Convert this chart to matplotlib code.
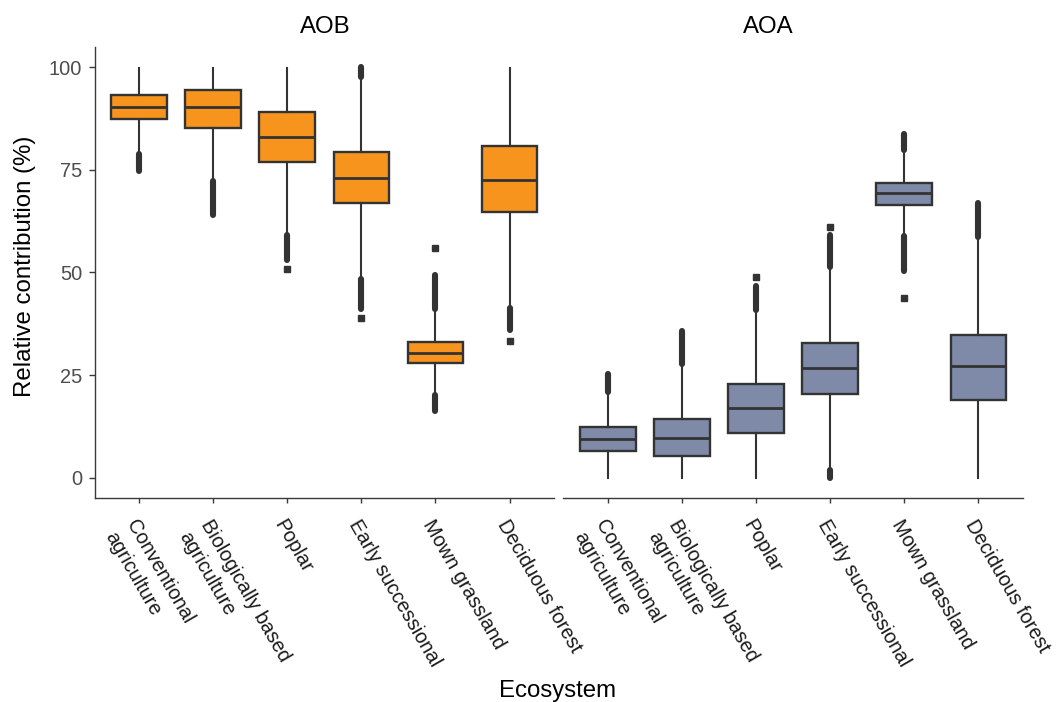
import matplotlib

matplotlib.use("Agg")
import matplotlib.pyplot as plt

plt.rcParams["font.family"] = ["Liberation Sans", "DejaVu Sans"]

# ecosystem categories (x axis of both facets)
ecosystems = [
    "Conventional\nagriculture",
    "Biologically based\nagriculture",
    "Poplar",
    "Early successional",
    "Mown grassland",
    "Deciduous forest",
]
panels = ["AOB", "AOA"]

# box statistics, relative contribution (%)
aob_q1 = [87.3, 85.3, 76.8, 66.8, 27.9, 64.7]
aob_med = [90.3, 90.2, 83.0, 73.1, 30.5, 72.5]
aob_q3 = [93.2, 94.4, 89.0, 79.3, 33.2, 80.8]
aob_lo = [79.4, 72.7, 59.7, 49.1, 20.6, 41.7]
aob_hi = [99.8, 99.8, 99.8, 97.0, 40.5, 99.8]
# dense runs of outliers (from, to) and isolated outliers
aob_runs = [
    [(74.6, 78.9)],
    [(63.9, 72.2)],
    [(53.0, 59.2)],
    [(97.7, 100.0), (41.2, 48.4)],
    [(41.2, 49.5), (16.3, 20.1)],
    [(35.9, 41.4)],
]
aob_points = [[], [], [50.8], [38.9], [55.9], [33.4]]

aoa_q1 = [6.6, 5.4, 10.9, 20.4, 66.4, 19.0]
aoa_med = [9.5, 9.6, 16.9, 26.8, 69.3, 27.3]
aoa_q3 = [12.3, 14.3, 22.9, 32.8, 71.9, 34.8]
aoa_lo = [0.0, 0.0, 0.0, 2.7, 59.1, 0.0]
aoa_hi = [20.2, 27.1, 40.1, 50.6, 79.4, 57.9]
aoa_runs = [
    [(20.9, 25.2)],
    [(27.8, 35.7)],
    [(40.8, 46.8)],
    [(51.3, 59.2), (0.0, 2.0)],
    [(79.9, 83.6), (50.3, 58.8)],
    [(58.6, 66.9)],
]
aoa_points = [[], [], [48.9], [61.0], [43.7], []]

ORANGE = "#F7941E"
SLATE = "#7F8AA9"
EDGE = "#333333"
AXIS = "#3a3a3a"
TICK_TXT = "#4D4D4D"

W, H = 1060, 702
fig = plt.figure(figsize=(W / 100, H / 100), dpi=100)

bottom = (H - 498) / H
height = 451 / H
ax_l = fig.add_axes([94.5 / W, bottom, 459.5 / W, height])
ax_r = fig.add_axes([563.3 / W, bottom, 459.5 / W, height])


def draw_panel(ax, q1, med, q3, lo, hi, runs, points, fill):
    stats = [
        dict(q1=a, med=m, q3=b, whislo=l, whishi=h, fliers=[])
        for a, m, b, l, h in zip(q1, med, q3, lo, hi)
    ]
    pos = list(range(1, len(stats) + 1))
    ax.bxp(
        stats,
        positions=pos,
        widths=0.75,
        patch_artist=True,
        showcaps=False,
        showfliers=False,
        boxprops=dict(facecolor=fill, edgecolor=EDGE, linewidth=1.7),
        medianprops=dict(color=EDGE, linewidth=2.0, solid_capstyle="butt"),
        whiskerprops=dict(color=EDGE, linewidth=1.5),
    )
    for x, segs in zip(pos, runs):
        for a, b in segs:
            ax.plot([x, x], [a, b], color=EDGE, lw=4.4, solid_capstyle="round", zorder=3)
    for x, pts in zip(pos, points):
        ax.plot([x] * len(pts), pts, ls="none", marker="s", ms=4.3, color=EDGE, zorder=3)

    ax.set_xlim(0.4, 6.6)
    ax.set_ylim(-4.9, 104.9)
    ax.set_xticks(pos)
    ax.set_xticklabels(
        ecosystems,
        rotation=-60,
        ha="left",
        va="top",
        rotation_mode="anchor",
        linespacing=1.4,
        fontsize=14.4,
        color="#1a1a1a",
    )
    ax.tick_params(axis="x", length=3.6, width=1.0, color=AXIS, pad=9.4)
    for side in ("top", "right"):
        ax.spines[side].set_visible(False)
    ax.spines["bottom"].set_color(AXIS)
    ax.spines["bottom"].set_linewidth(1.0)
    ax.spines["left"].set_color(AXIS)
    ax.spines["left"].set_linewidth(1.0)


draw_panel(ax_l, aob_q1, aob_med, aob_q3, aob_lo, aob_hi, aob_runs, aob_points, ORANGE)
draw_panel(ax_r, aoa_q1, aoa_med, aoa_q3, aoa_lo, aoa_hi, aoa_runs, aoa_points, SLATE)

ax_l.set_yticks([0, 25, 50, 75, 100])
ax_l.tick_params(axis="y", length=4.5, width=1.0, color=AXIS, pad=4.3,
                 labelsize=14.4, labelcolor=TICK_TXT)
ax_r.spines["left"].set_visible(False)
ax_r.set_yticks([])

# facet titles and axis titles
fig.text(325 / W, 1 - 33 / H, panels[0], ha="center", va="baseline", fontsize=17.3)
fig.text(768 / W, 1 - 33 / H, panels[1], ha="center", va="baseline", fontsize=17.3)
fig.text(25 / W, 1 - 266.5 / H, "Relative contribution (%)", rotation=90,
         ha="center", va="center", fontsize=17.3)
fig.text(558 / W, 1 - 691 / H, "Ecosystem", ha="center", va="center", fontsize=17.3)

fig.savefig("out.png", dpi=100)
